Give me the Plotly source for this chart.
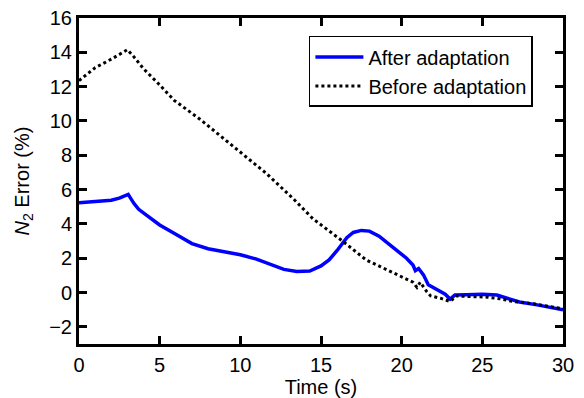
import plotly.graph_objects as go

# After adaptation (blue solid)
t_after = [0, 1, 2, 2.5, 3.05, 3.4, 3.7, 4.2, 5, 6, 7, 8, 9, 10, 11, 12, 12.7, 13.5, 14.3,
           15, 15.5, 16, 16.6, 17, 17.5, 18, 18.6, 19.5, 20.3, 20.7, 20.85, 21.05, 21.35,
           21.65, 22.2, 22.7, 23.0, 23.3, 24, 25, 25.9, 26.7, 27.3, 28.4, 29.2, 30]
e_after = [5.23, 5.3, 5.38, 5.5, 5.72, 5.2, 4.85, 4.5, 3.94, 3.4, 2.85, 2.55, 2.38, 2.2,
           1.95, 1.6, 1.35, 1.23, 1.25, 1.55, 1.9, 2.45, 3.2, 3.5, 3.62, 3.58, 3.28, 2.6,
           2.0, 1.6, 1.28, 1.4, 1.03, 0.45, 0.16, -0.1, -0.38, -0.15, -0.13, -0.1, -0.15,
           -0.38, -0.55, -0.72, -0.85, -1.0]

# Before adaptation (black dotted)
t_before = [0, 1, 2, 2.5, 3, 3.35, 4, 5, 5.9, 7.5, 9.6, 11.6, 13.3, 14.5, 16.4, 17.8, 18.7,
            19.7, 20.7, 20.95, 21.15, 21.55, 21.8, 22.4, 23.0, 23.4, 24, 25.3, 26.1, 26.9,
            28.2, 29.4, 30]
e_before = [12.35, 13.1, 13.6, 13.9, 14.15, 13.8, 13.04, 12.1, 11.2, 10.1, 8.5, 6.95, 5.45,
            4.3, 2.95, 1.9, 1.5, 1.03, 0.6, 0.3, 0.6, 0.06, -0.2, -0.33, -0.52, -0.2, -0.23,
            -0.27, -0.37, -0.52, -0.66, -0.85, -0.95]

x_ticks = [0, 5, 10, 15, 20, 25, 30]
y_ticks = [-2, 0, 2, 4, 6, 8, 10, 12, 14, 16]

fig = go.Figure()
fig.add_trace(go.Scatter(x=t_after, y=e_after, mode="lines", name="After adaptation",
                         line=dict(color="#0000FF", width=3.5)))
fig.add_trace(go.Scatter(x=t_before, y=e_before, mode="lines", name="Before adaptation",
                         line=dict(color="black", width=3, dash="dot")))

axis_common = dict(showline=True, linecolor="black", linewidth=3, mirror="ticks",
                   ticks="inside", ticklen=8, tickwidth=3, tickcolor="black",
                   showgrid=False, zeroline=False, automargin=False,
                   tickfont=dict(size=20, color="black"))

fig.update_layout(
    width=584, height=398,
    margin=dict(l=79, r=21, t=18, b=54),
    paper_bgcolor="white", plot_bgcolor="white",
    font=dict(family="Liberation Sans, Arial, sans-serif", color="black"),
    xaxis=dict(range=[0, 30], tickvals=x_ticks, ticklabelstandoff=1,
               title=dict(text="Time (s)", font=dict(size=20), standoff=4), **axis_common),
    yaxis=dict(range=[-3, 16], tickvals=y_ticks,
               title=dict(text="<i>N</i><sub>2</sub> Error (%)", font=dict(size=20), standoff=15),
               **axis_common),
    legend=dict(x=0.475, y=0.945, xanchor="left", yanchor="top",
                bordercolor="black", borderwidth=1.5, bgcolor="white",
                font=dict(size=20), tracegroupgap=0, itemwidth=48),
    showlegend=True,
)

fig.write_html("out.html")
